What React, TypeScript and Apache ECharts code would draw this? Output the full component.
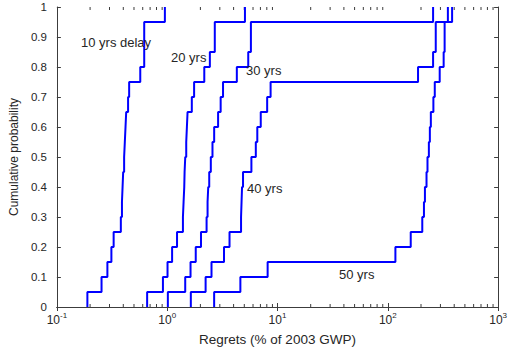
import React, { useEffect, useRef } from "react";
import * as echarts from "echarts";

// cumulative probability reached at each successive sample
const levels = [0.05, 0.1, 0.15, 0.2, 0.25, 0.3, 0.35, 0.4, 0.45, 0.5, 0.55, 0.6, 0.65, 0.7, 0.75, 0.8, 0.85, 0.9, 0.95, 1.0];

// sorted regrets (% of 2003 GWP) for each delay
const delay10 = [0.189, 0.254, 0.287, 0.312, 0.327, 0.38, 0.389, 0.394, 0.399, 0.407, 0.413, 0.419, 0.425, 0.442, 0.452, 0.57, 0.619, 0.619, 0.619, 0.953];
const delay20 = [0.658, 0.915, 1.007, 1.108, 1.228, 1.389, 1.408, 1.428, 1.438, 1.458, 1.488, 1.509, 1.53, 1.672, 1.754, 2.169, 2.437, 2.701, 2.701, 5.07];
const delay30 = [1.014, 1.457, 1.628, 1.815, 2.025, 2.276, 2.323, 2.356, 2.405, 2.486, 2.574, 2.666, 2.894, 3.053, 3.208, 4.279, 5.43, 5.74, 5.74, 257.4];
const delay40 = [1.638, 2.23, 2.522, 3.274, 3.674, 4.673, 4.722, 4.771, 4.87, 5.8, 6.36, 6.56, 7.05, 8.06, 8.66, 188.0, 257.4, 272.1, 272.1, 350.5];
const delay50 = [2.665, 4.607, 8.14, 117.2, 161.4, 205.4, 212.7, 217.1, 224.4, 229.0, 235.7, 240.6, 245.6, 259.0, 266.6, 295.5, 320.9, 327.5, 327.5, 382.8];

const seriesNames = ["10 yrs delay", "20 yrs", "30 yrs", "40 yrs", "50 yrs"];

// log-axis minor tick positions
const decades = [0.1, 1, 10, 100];
const minorMultipliers = [2, 3, 4, 5, 6, 7, 8, 9];

const AXIS_COLOR = "#3c3c3c";
const TEXT_COLOR = "#262626";
const FONT = "'Liberation Sans', Arial, sans-serif";

function cdf(values: number[]) {
  return [[values[0], 0], ...values.map((v, i) => [v, levels[i]])];
}

export default function App() {
  const ref = useRef<HTMLDivElement>(null);

  useEffect(() => {
    if (!ref.current) return;
    const chart = echarts.init(ref.current, null, { renderer: "svg" });

    const minorData: number[][] = [];
    decades.forEach((d) => minorMultipliers.forEach((m) => minorData.push([m * d, 0])));

    const all = [delay10, delay20, delay30, delay40, delay50];

    const lineSeries = all.map((vals, i) => ({
      name: seriesNames[i],
      type: "line",
      step: "end",
      data: cdf(vals),
      showSymbol: false,
      symbol: "none",
      lineStyle: { color: "#0000ff", width: 2 },
      itemStyle: { color: "#0000ff" },
      clip: false,
      z: 3,
    }));

    const annotations = [
      { text: "10 yrs delay", x: 81, y: 42.5 },
      { text: "20 yrs", x: 171, y: 57 },
      { text: "30 yrs", x: 246, y: 70.5 },
      { text: "40 yrs", x: 247, y: 188 },
      { text: "50 yrs", x: 339, y: 274 },
    ];

    chart.setOption({
      animation: false,
      backgroundColor: "#ffffff",
      textStyle: { fontFamily: FONT },
      grid: { left: 53, right: 8, top: 7, bottom: 42, containLabel: false },
      xAxis: [
        {
          type: "log",
          logBase: 10,
          min: 0.1,
          max: 1000,
          position: "bottom",
          name: "Regrets (% of 2003 GWP)",
          nameLocation: "middle",
          nameGap: 25,
          nameTextStyle: { color: TEXT_COLOR, fontSize: 13.5, fontFamily: FONT },
          axisLine: { show: true, lineStyle: { color: AXIS_COLOR, width: 1 } },
          axisTick: { show: true, inside: true, length: 4, lineStyle: { color: AXIS_COLOR } },
          splitLine: { show: false },
          axisLabel: {
            margin: 7,
            color: TEXT_COLOR,
            formatter: (v: number) => `{b|10}{s|${Math.round(Math.log10(v))}}`,
            rich: {
              b: { fontSize: 12, fontFamily: FONT, color: TEXT_COLOR, lineHeight: 12, verticalAlign: "bottom" },
              s: { fontSize: 8, fontFamily: FONT, color: TEXT_COLOR, lineHeight: 8, padding: [0, 0, 7, 0], verticalAlign: "bottom" },
            },
          },
        },
        {
          type: "log",
          logBase: 10,
          min: 0.1,
          max: 1000,
          position: "top",
          axisLine: { show: true, lineStyle: { color: AXIS_COLOR, width: 1 } },
          axisTick: { show: true, inside: true, length: 4, lineStyle: { color: AXIS_COLOR } },
          axisLabel: { show: false },
          splitLine: { show: false },
        },
      ],
      yAxis: [
        {
          type: "value",
          min: 0,
          max: 1,
          interval: 0.1,
          position: "left",
          name: "Cumulative probability",
          nameLocation: "middle",
          nameGap: 31,
          nameTextStyle: { color: TEXT_COLOR, fontSize: 12, fontFamily: FONT },
          axisLine: { show: true, lineStyle: { color: AXIS_COLOR, width: 1 } },
          axisTick: { show: true, inside: true, length: 4, lineStyle: { color: AXIS_COLOR } },
          splitLine: { show: false },
          axisLabel: {
            margin: 10,
            color: TEXT_COLOR,
            fontSize: 11.5,
            fontFamily: FONT,
            formatter: (v: number) => String(Math.round(v * 10) / 10),
          },
        },
        {
          type: "value",
          min: 0,
          max: 1,
          interval: 0.1,
          position: "right",
          axisLine: { show: true, lineStyle: { color: AXIS_COLOR, width: 1 } },
          axisTick: { show: true, inside: true, length: 4, lineStyle: { color: AXIS_COLOR } },
          axisLabel: { show: false },
          splitLine: { show: false },
        },
      ],
      series: [
        ...lineSeries,
        {
          type: "custom",
          name: "minorTicks",
          xAxisIndex: 0,
          yAxisIndex: 0,
          silent: true,
          clip: false,
          z: 1,
          data: minorData,
          renderItem: (_params: any, api: any) => {
            const v = api.value(0);
            const b = api.coord([v, 0]);
            const t = api.coord([v, 1]);
            return {
              type: "group",
              children: [
                { type: "line", shape: { x1: b[0], y1: b[1], x2: b[0], y2: b[1] - 3 }, style: { stroke: AXIS_COLOR, lineWidth: 1 } },
                { type: "line", shape: { x1: t[0], y1: t[1], x2: t[0], y2: t[1] + 3 }, style: { stroke: AXIS_COLOR, lineWidth: 1 } },
              ],
            };
          },
        },
      ],
      graphic: annotations.map((a) => ({
        type: "text",
        x: a.x,
        y: a.y,
        z: 10,
        style: {
          text: a.text,
          fill: TEXT_COLOR,
          font: `13px ${FONT}`,
          align: "left",
          verticalAlign: "middle",
        },
      })),
    });

    return () => chart.dispose();
  }, []);

  return (
    <div
      ref={ref}
      style={{ position: "fixed", left: 0, top: 0, width: 510, height: 351, background: "#fff" }}
    />
  );
}
